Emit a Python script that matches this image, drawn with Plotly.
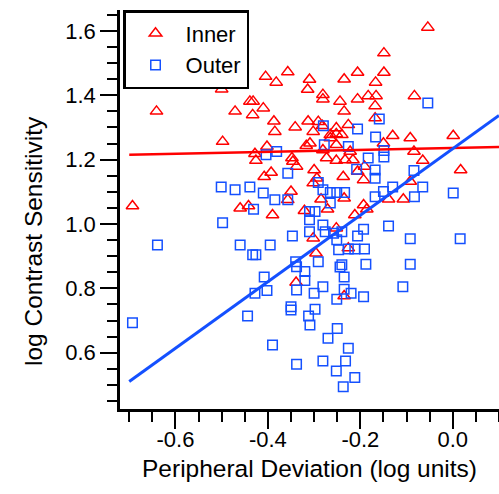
import plotly.graph_objects as go
import numpy as np

# ---- data ----
inner_x = [-0.641, -0.500, -0.471, -0.439, -0.432, -0.433, -0.410, -0.405, -0.382, -0.357,
           -0.387, -0.385, -0.341, -0.310, -0.314, -0.313, -0.498, -0.054, -0.149, -0.206,
           -0.149, -0.235, -0.167, -0.281, -0.281, -0.244, -0.206, -0.183, -0.166, -0.168,
           -0.083, -0.235, -0.168, -0.291, -0.282, -0.252, -0.226, -0.302, -0.265, -0.252,
           -0.240, -0.130, -0.092, 0.001, -0.693, -0.402, -0.428, -0.426, -0.348, -0.346,
           -0.317, -0.338, -0.393, -0.408, -0.350, -0.357, -0.460, -0.442, -0.390, -0.321,
           -0.265, -0.309, -0.281, -0.252, -0.222, -0.150, -0.084, -0.273, -0.252, -0.233,
           -0.216, -0.191, -0.065, 0.017, -0.300, -0.206, -0.237, -0.193, -0.294, -0.302,
           -0.092, -0.285, -0.235, -0.139, -0.107, -0.271, -0.193, -0.186, -0.212, -0.252,
           -0.302, -0.226, -0.296, -0.339, -0.235]
inner_y = [1.350, 1.419, 1.350, 1.381, 1.381, 1.339, 1.360, 1.458, 1.440, 1.472,
           1.319, 1.287, 1.301, 1.449, 1.418, 1.319, 1.256, 1.611, 1.531, 1.471,
           1.471, 1.450, 1.440, 1.402, 1.388, 1.381, 1.388, 1.398, 1.398, 1.367,
           1.398, 1.350, 1.329, 1.318, 1.305, 1.298, 1.308, 1.287, 1.277, 1.280,
           1.277, 1.274, 1.267, 1.274, 1.056, 1.241, 1.218, 1.197, 1.205, 1.194,
           1.243, 1.179, 1.160, 1.147, 1.101, 1.075, 1.049, 1.056, 1.028, 1.041,
           1.267, 1.251, 1.230, 1.246, 1.225, 1.251, 1.225, 1.205, 1.197, 1.199,
           1.199, 1.179, 1.197, 1.168, 1.168, 1.163, 1.147, 1.137, 1.142, 1.127,
           1.132, 1.077, 1.080, 1.077, 1.077, 1.046, 1.059, 1.046, 1.028, 0.987,
           0.956, 0.925, 0.909, 0.818, 0.776]

outer_x = [-0.280, -0.054, -0.159, -0.206, -0.167, -0.381, -0.404, -0.357, -0.501, -0.471,
           -0.439, -0.410, -0.385, -0.357, -0.431, -0.498, -0.347, -0.639, -0.460, -0.395,
           -0.433, -0.426, -0.340, -0.338, -0.278, -0.226, -0.149, -0.149, -0.183, -0.208,
           -0.168, -0.168, -0.084, -0.291, -0.281, -0.265, -0.251, -0.234, -0.265, -0.168,
           -0.150, -0.130, -0.083, -0.065, 0.001, -0.310, -0.298, -0.310, -0.310, -0.281,
           -0.276, -0.258, -0.240, -0.251, -0.206, -0.193, -0.139, -0.092, 0.016, -0.247,
           -0.226, -0.212, -0.191, -0.291, -0.240, -0.188, -0.092, -0.693, -0.408, -0.428,
           -0.402, -0.444, -0.390, -0.320, -0.320, -0.338, -0.350, -0.350, -0.312, -0.309,
           -0.338, -0.244, -0.235, -0.281, -0.108, -0.300, -0.235, -0.220, -0.251, -0.193,
           -0.298, -0.250, -0.270, -0.226, -0.281, -0.232, -0.252, -0.212, -0.237]
outer_y = [1.305, 1.376, 1.326, 1.295, 1.270, 1.225, 1.215, 1.158, 1.115, 1.106,
           1.115, 1.096, 1.075, 1.075, 1.046, 1.004, 0.963, 0.935, 0.935, 0.935,
           0.904, 0.904, 0.883, 0.867, 1.246, 1.241, 1.228, 1.208, 1.205, 1.170,
           1.168, 1.142, 1.166, 1.129, 1.106, 1.098, 1.098, 1.098, 1.065, 1.085,
           1.101, 1.115, 1.085, 1.115, 1.096, 1.039, 1.039, 1.013, 0.976, 0.997,
           0.976, 0.971, 0.976, 0.951, 0.963, 0.984, 0.994, 0.954, 0.954, 0.920,
           0.922, 0.922, 0.922, 0.883, 0.873, 0.875, 0.875, 0.693, 0.835, 0.785,
           0.793, 0.714, 0.624, 0.852, 0.824, 0.795, 0.743, 0.733, 0.714, 0.686,
           0.564, 0.866, 0.835, 0.805, 0.805, 0.785, 0.797, 0.785, 0.766, 0.774,
           0.735, 0.675, 0.645, 0.614, 0.574, 0.574, 0.543, 0.523, 0.494]

# linear fits (slope, intercept) and the x-span over which they are drawn
inner_fit = (0.030, 1.236)
outer_fit = (1.034, 1.234)
fit_span = [-0.70, 0.10]

x_ticks = [-0.6, -0.4, -0.2, 0.0]
x_ticktext = ["-0.6", "-0.4", "-0.2", "0.0"]
y_ticks = [0.6, 0.8, 1.0, 1.2, 1.4, 1.6]
y_ticktext = ["0.6", "0.8", "1.0", "1.2", "1.4", "1.6"]

RED = "#FF0000"
BLUE = "#1450FF"
FONT = "Liberation Sans, Arial, sans-serif"

fig = go.Figure()
fig.add_trace(go.Scatter(x=inner_x, y=inner_y, mode="markers", name="Inner",
                         marker=dict(symbol="triangle-up-open", size=11, color=RED,
                                     line=dict(width=1.5, color=RED))))
fig.add_trace(go.Scatter(x=outer_x, y=outer_y, mode="markers", name="Outer",
                         marker=dict(symbol="square-open", size=9.5, color=BLUE,
                                     line=dict(width=1.5, color=BLUE))))

fx = np.array(fit_span)
fig.add_trace(go.Scatter(x=fx, y=inner_fit[0] * fx + inner_fit[1], mode="lines",
                         line=dict(color=RED, width=2.5), showlegend=False))
fig.add_trace(go.Scatter(x=fx, y=outer_fit[0] * fx + outer_fit[1], mode="lines",
                         line=dict(color=BLUE, width=3), showlegend=False))

axis_common = dict(showline=True, linecolor="black", linewidth=2.5, ticks="outside",
                   ticklen=17, tickwidth=2, tickcolor="black", showgrid=False,
                   zeroline=False, mirror=False,
                   tickfont=dict(family=FONT, size=22, color="black"))
minor_common = dict(dtick=0.05, tick0=0, ticks="outside", ticklen=10, tickwidth=2,
                    tickcolor="black", showgrid=False)

fig.update_xaxes(range=[-0.72, 0.10], tickmode="array", tickvals=x_ticks, ticktext=x_ticktext,
                 minor=minor_common, ticklabelstandoff=-8,
                 title=dict(text="Peripheral Deviation (log units)",
                            font=dict(family=FONT, size=24.5, color="black"), standoff=9),
                 **axis_common)
fig.update_yaxes(range=[0.425, 1.665], tickmode="array", tickvals=y_ticks, ticktext=y_ticktext,
                 minor=minor_common, **axis_common)

fig.add_annotation(text="log Contrast Sensitivity", textangle=-90,
                   xref="paper", yref="paper", x=-0.2296, y=0.421,
                   xanchor="center", yanchor="middle", showarrow=False,
                   font=dict(family=FONT, size=24.5, color="black"))

fig.update_layout(
    width=499, height=494,
    margin=dict(l=120, r=0, t=10, b=85, pad=0),
    plot_bgcolor="white", paper_bgcolor="white",
    font=dict(family=FONT, size=22, color="black"),
    legend=dict(x=0.008, y=1.0, xanchor="left", yanchor="top",
                bgcolor="white", bordercolor="black", borderwidth=2.5,
                font=dict(family=FONT, size=22, color="black"),
                itemwidth=50, tracegroupgap=0),
)

fig.write_html("out.html")
